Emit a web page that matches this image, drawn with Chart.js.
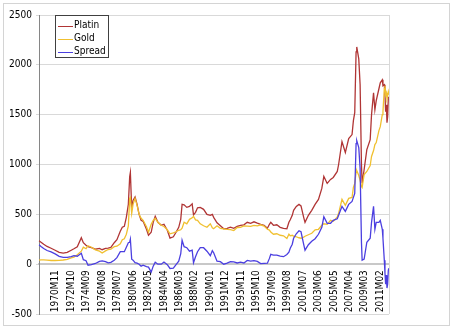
<!DOCTYPE html>
<html>
<head>
<meta charset="utf-8">
<script src="https://cdn.jsdelivr.net/npm/chart.js@4.4.1/dist/chart.umd.min.js"></script>
<style>
  html, body { margin: 0; padding: 0; background: #fff; }
  #frame { position: absolute; left: 3px; top: 3px; width: 445px; height: 321px; border: 1px solid #d4d4d4; }
  #wrap { position: absolute; left: 0; top: 0; width: 453px; height: 330px; }
</style>
</head>
<body>
<div id="frame"></div>
<div id="wrap"><canvas id="chart" width="453" height="330"></canvas></div>
<script>
// Platin / Gold / Spread — monthly prices
const FIRST_YEAR = 1968, FIRST_MONTH = 10, MONTH_COUNT = 522; // 1968M10 .. 2012M03

const tickLabels = [
  "1970M11", "1972M10", "1974M09", "1976M08", "1978M07", "1980M06", "1982M05",
  "1984M04", "1986M03", "1988M02", "1990M01", "1991M12", "1993M11", "1995M10",
  "1997M09", "1999M08", "2001M07", "2003M06", "2005M05", "2007M04", "2009M03", "2011M02",
];

const sampleMonths = [
  "1968M10", "1969M01", "1969M05", "1969M10", "1970M04", "1970M10", "1971M04", "1971M10",
  "1972M04", "1972M10", "1973M02", "1973M07", "1974M01", "1974M04", "1974M08", "1974M11",
  "1975M04", "1975M10", "1976M04", "1976M08", "1977M01", "1977M05", "1977M09", "1978M02",
  "1978M06", "1978M11", "1979M02", "1979M05", "1979M08", "1979M11", "1980M01", "1980M02",
  "1980M04", "1980M06", "1980M09", "1980M12", "1981M03", "1981M06", "1981M09", "1982M02",
  "1982M05", "1982M09", "1982M12", "1983M03", "1983M07", "1983M12", "1984M04", "1984M09",
  "1985M01", "1985M06", "1985M10", "1986M02", "1986M05", "1986M07", "1986M10", "1987M02",
  "1987M06", "1987M10", "1987M12", "1988M03", "1988M06", "1988M10", "1989M03", "1989M08",
  "1990M01", "1990M04", "1990M06", "1990M11", "1991M04", "1991M09", "1992M02", "1992M07",
  "1992M12", "1993M05", "1993M10", "1994M03", "1994M08", "1995M01", "1995M06", "1995M11",
  "1996M04", "1996M09", "1997M02", "1997M05", "1997M07", "1997M11", "1998M04", "1998M09",
  "1999M02", "1999M07", "1999M10", "1999M12", "2000M03", "2000M05", "2000M09", "2001M01",
  "2001M04", "2001M08", "2001M10", "2002M03", "2002M08", "2003M01", "2003M06", "2003M11",
  "2004M02", "2004M07", "2004M12", "2005M04", "2005M10", "2005M12", "2006M05", "2006M10",
  "2007M03", "2007M08", "2007M10", "2007M12", "2008M02", "2008M03", "2008M06", "2008M08",
  "2008M10", "2008M11", "2009M02", "2009M06", "2009M11", "2010M01", "2010M04", "2010M06",
  "2010M08", "2010M12", "2011M02", "2011M05", "2011M06", "2011M08", "2011M09", "2011M10",
  "2011M11", "2011M12", "2012M01", "2012M02", "2012M03",
];

const platinValues = [
  235, 220, 200, 178, 160, 140, 118, 110,
  118, 140, 155, 175, 265, 215, 190, 175,
  165, 150, 158, 145, 158, 160, 168, 215,
  245, 330, 370, 380, 470, 600, 880, 920,
  560, 640, 675, 600, 500, 440, 430, 350,
  290, 320, 420, 480, 420, 390, 400, 340,
  262, 275, 320, 370, 450, 600, 595, 570,
  580, 605, 495, 520, 565, 570, 550, 500,
  490, 500, 470, 415, 385, 355, 360, 372,
  360, 380, 390, 395, 420, 410, 425, 412,
  400, 390, 360, 400, 420, 390, 395, 370,
  360, 355, 420, 445, 490, 540, 580, 600,
  585, 470, 420, 490, 540, 600, 650, 760,
  880, 810, 850, 870, 930, 1000, 1230, 1120,
  1260, 1300, 1440, 1520, 2130, 2180, 2060, 1800,
  1000, 810, 950, 1150, 1250, 1500, 1720, 1550,
  1640, 1760, 1820, 1850, 1790, 1800, 1700, 1530,
  1600, 1420, 1480, 1670, 1660,
];

const goldValues = [
  40, 43, 43, 41, 37, 37, 39, 42,
  49, 64, 70, 95, 130, 170, 155, 185,
  170, 143, 130, 112, 133, 147, 150, 175,
  180, 205, 245, 255, 300, 385, 660, 670,
  510, 600, 660, 590, 500, 460, 440, 375,
  320, 400, 440, 460, 420, 390, 378, 345,
  305, 315, 325, 340, 345, 360, 420, 405,
  450, 465, 480, 445, 440, 405, 385, 370,
  405, 365, 355, 385, 360, 355, 350, 347,
  337, 368, 370, 383, 382, 380, 390, 385,
  395, 382, 350, 342, 322, 300, 305, 290,
  285, 258, 300, 285, 290, 280, 275, 265,
  260, 272, 280, 295, 310, 345, 350, 390,
  405, 400, 440, 430, 475, 510, 650, 590,
  660, 670, 770, 810, 920, 940, 890, 840,
  780, 770, 900, 930, 990, 1080, 1140, 1200,
  1220, 1340, 1380, 1500, 1530, 1760, 1790, 1700,
  1720, 1660, 1690, 1730, 1700,
];

const spreadValues = [
  195, 177, 157, 137, 123, 103, 79, 68,
  69, 76, 85, 80, 110, 45, 35, -10,
  -5, 7, 28, 33, 25, 13, 18, 40,
  65, 125, 125, 125, 170, 215, 220, 250,
  50, 40, 15, 10, 0, -20, -10, -25,
  -30, -80, -20, 20, 0, 0, 22, -5,
  -43, -40, -5, 30, 105, 240, 175, 165,
  130, 140, 15, 75, 125, 165, 165, 130,
  85, 135, 115, 30, 25, 0, 10, 25,
  23, 12, 20, 12, 38, 30, 35, 27,
  5, 8, 10, 58, 98, 90, 90, 80,
  75, 97, 120, 160, 200, 260, 305, 335,
  325, 198, 140, 195, 230, 255, 300, 370,
  475, 410, 410, 440, 455, 490, 580, 530,
  600, 630, 670, 710, 1210, 1240, 1170, 960,
  220, 40, 50, 220, 260, 420, 580, 350,
  420, 420, 440, 350, 260, 40, -90, -200,
  -110, -240, -200, -60, -40,
];

const seriesNames = ["Platin", "Gold", "Spread"];
const seriesColors = ["#b03535", "#f0c030", "#4b3fe0"];
const seriesValues = [platinValues, goldValues, spreadValues];

// full monthly category axis
const months = [];
for (let i = 0; i < MONTH_COUNT; i++) {
  const t = FIRST_YEAR * 12 + (FIRST_MONTH - 1) + i;
  const m = (t % 12) + 1;
  months.push(Math.floor(t / 12) + "M" + (m < 10 ? "0" + m : m));
}

const FONT = '"DejaVu Sans Condensed", "DejaVu Sans", sans-serif';

// legend box inside the plot + light right border of the plot area
const boxLegend = {
  id: "boxLegend",
  afterDraw(chart) {
    const ctx = chart.ctx;
    const area = chart.chartArea;
    ctx.save();
    ctx.strokeStyle = "#d9d9d9";
    ctx.lineWidth = 1;
    ctx.beginPath();
    ctx.moveTo(Math.round(area.right) + 0.5, area.top);
    ctx.lineTo(Math.round(area.right) + 0.5, area.bottom);
    ctx.stroke();

    const x0 = 55.5, y0 = 15.5, w = 53, h = 42;
    ctx.fillStyle = "#fff";
    ctx.fillRect(x0, y0, w, h);
    ctx.strokeStyle = "#404040";
    ctx.strokeRect(x0, y0, w, h);
    ctx.font = "10px " + FONT;
    ctx.textBaseline = "middle";
    chart.data.datasets.forEach((ds, i) => {
      const y = 25.5 + i * 13.2;
      ctx.strokeStyle = ds.borderColor;
      ctx.lineWidth = 1;
      ctx.beginPath();
      ctx.moveTo(58, Math.round(y) + 0.5);
      ctx.lineTo(73, Math.round(y) + 0.5);
      ctx.stroke();
      ctx.fillStyle = "#000";
      ctx.fillText(ds.label, 74, y);
    });
    ctx.restore();
  },
};

new Chart(document.getElementById("chart"), {
  type: "line",
  data: {
    labels: months,
    datasets: seriesNames.map((name, i) => ({
      label: name,
      data: sampleMonths.map((mo, k) => ({ x: mo, y: seriesValues[i][k] })),
      borderColor: seriesColors[i],
      borderWidth: 1.3,
      pointRadius: 0,
      tension: 0,
      order: 3 - i,
    })),
  },
  options: {
    responsive: false,
    animation: false,
    layout: { padding: { top: 15, right: 64, bottom: 16, left: 0 } },
    plugins: { legend: { display: false }, tooltip: { enabled: false } },
    scales: {
      x: {
        type: "category",
        position: { y: 0 },
        offset: false,
        grid: { display: false, drawTicks: false },
        border: { display: true, color: "#c8c8c8", width: 2 },
        ticks: {
          autoSkip: false,
          minRotation: 90,
          maxRotation: 90,
          padding: 6,
          color: "#000",
          font: { family: FONT, size: 10 },
          callback: function (value) {
            const lab = this.getLabelForValue(value);
            return tickLabels.includes(lab) ? lab : "";
          },
        },
      },
      y: {
        min: -500,
        max: 2500,
        afterFit: (scale) => { scale.width = 39; },
        ticks: {
          stepSize: 500,
          padding: 4,
          color: "#000",
          font: { family: FONT, size: 10 },
          callback: (v) => String(v),
        },
        grid: { color: "#d9d9d9", tickLength: 3 },
        border: { color: "#868686" },
      },
    },
  },
  plugins: [boxLegend],
});
</script>
</body>
</html>
